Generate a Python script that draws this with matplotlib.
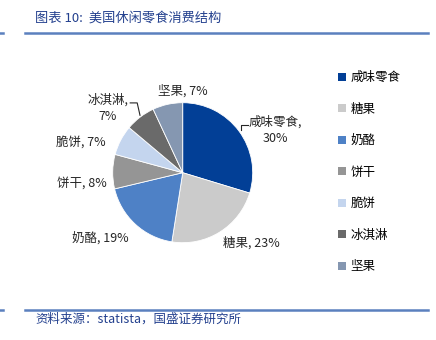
import matplotlib.pyplot as plt
from matplotlib.lines import Line2D
from matplotlib.patches import Patch

plt.rcParams['font.family'] = ['Noto Sans CJK SC', 'DejaVu Sans']

# consumption structure of US snack food (%)
categories = ['咸味零食', '糖果', '奶酪', '饼干', '脆饼', '冰淇淋', '坚果']
shares = [30, 23, 19, 8, 7, 7, 7]
colors = ['#023F96', '#CBCBCB', '#4E81C6', '#959595', '#C4D5EE', '#6A6A6A', '#8597B1']

# label text and its place around the pie (pie radius = 1)
label_text = ['咸味零食,\n30%', '糖果, 23%', '奶酪, 19%', '饼干, 8%', '脆饼, 7%', '冰淇淋,\n7%', '坚果, 7%']
label_pos = [(1.33, 0.61), (0.98, -1.0), (-1.17, -0.93), (-1.44, -0.15),
             (-1.45, 0.44), (-1.07, 0.92), (0.0, 1.17)]

fig = plt.figure(figsize=(4.36, 3.40), dpi=100)

# pie axes: center at (182.7, 172.7) px, radius 70 px
cx, cy, r = 182.7, 172.7, 70
ax = fig.add_axes([(cx - r) / 436, (340 - cy - r) / 340, 2 * r / 436, 2 * r / 340])
ax.pie(shares, colors=colors, startangle=90, counterclock=False,
       wedgeprops=dict(edgecolor='white', linewidth=0.6))
ax.set_xlim(-1, 1)
ax.set_ylim(-1, 1)

for txt, (x, y) in zip(label_text, label_pos):
    ax.text(x, y, txt, ha='center', va='center', fontsize=9, color='#262626',
            linespacing=1.3, clip_on=False)

# leader lines for the two-line labels
ax.add_line(Line2D([-0.75, -0.65, -0.61], [0.997, 0.997, 0.82], color='#262626', lw=0.8, clip_on=False))
ax.add_line(Line2D([0.829, 0.829, 0.93], [0.61, 0.68, 0.68], color='#262626', lw=0.8, clip_on=False))

# legend
handles = [Patch(facecolor=c, edgecolor='none') for c in colors]
fig.legend(handles, categories, loc='upper left', bbox_to_anchor=(338 / 436, 1 - 71 / 340),
           frameon=False, fontsize=9, handlelength=0.6, handleheight=0.6,
           handletextpad=0.4, labelspacing=1.48, borderpad=0, borderaxespad=0)

# header and footer rules
rule = '#5B80BE'
fig.add_artist(Line2D([25 / 436, 428 / 436], [1 - 33 / 340] * 2, color=rule, lw=1.8))
fig.add_artist(Line2D([0, 3 / 436], [1 - 33 / 340] * 2, color=rule, lw=1.8))
fig.add_artist(Line2D([25 / 436, 428 / 436], [1 - 310 / 340] * 2, color=rule, lw=1.8))
fig.add_artist(Line2D([0, 3 / 436], [1 - 310 / 340] * 2, color=rule, lw=1.8))

fig.text(35 / 436, 1 - 18 / 340, '图表 10:  美国休闲零食消费结构', fontsize=9.5, color='#23408E',
         style='italic', va='center', ha='left')
fig.text(35 / 436, 1 - 319 / 340, '资料来源：statista，国盛证券研究所', fontsize=9, color='#23408E',
         style='italic', va='center', ha='left')

fig.savefig('out.png', dpi=100)
